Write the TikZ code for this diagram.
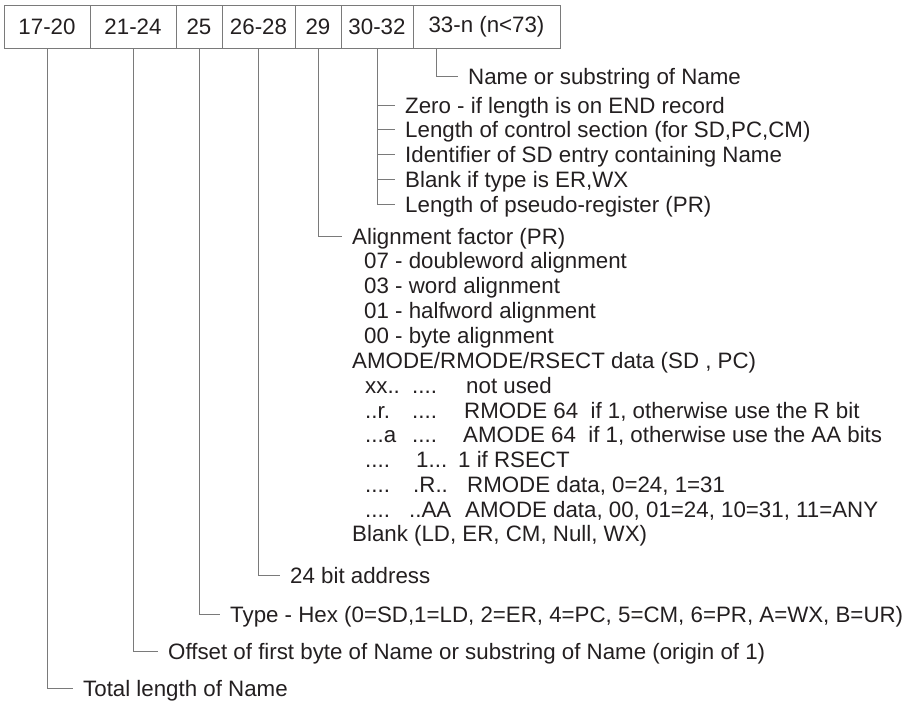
\documentclass[tikz,border=0pt]{standalone}
\usepackage{fontspec}
\setmainfont{Liberation Sans}
\usetikzlibrary{positioning}
\definecolor{ink}{HTML}{231F20}
\definecolor{rule}{HTML}{7A7A7A}
\newcommand{\fieldfont}{\fontsize{22.3}{25}\selectfont}
\tikzset{
  field node/.style={
    draw=rule,
    line width=1pt,
    text=ink,
    minimum height=43pt,
    inner sep=0pt,
    outer sep=0pt,
    font=\fieldfont,
  },
  note node/.style={
    anchor=west,
    inner sep=0pt,
    text=ink,
    text height=16pt,
    text depth=0pt,
    font=\fieldfont,
  },
  leader/.style={
    draw=rule,
    line width=1pt,
    shorten >=10pt,
  },
}

\begin{document}
\begin{tikzpicture}[x=1pt, y=-1pt]
  \useasboundingbox (0,0) rectangle (906,702);

  % --- Record fields ---
  \node[field node, minimum width=86pt, anchor=north west] (f1) at (4,5) {17-20};
  \node[field node, minimum width=86pt, right=0pt of f1] (f2) {21-24};
  \node[field node, minimum width=46pt, right=0pt of f2] (f3) {25};
  \node[field node, minimum width=73pt, right=0pt of f3] (f4) {26-28};
  \node[field node, minimum width=46pt, right=0pt of f4] (f5) {29};
  \node[field node, minimum width=72pt, right=0pt of f5] (f6) {30-32};
  \node[field node, minimum width=147pt, right=0pt of f6] (f7) {33-n (n<73)};

  % --- Name (33-n) ---
  \node[note node] (name) at (468,76) {Name or substring of Name};
  \draw[leader] ([xshift=-50pt]f7.south) |- (name.west);

  % --- Section length (30-32) ---
  \foreach \t [count=\i] in {Zero - if length is on END record,
      {Length of control section (for SD,PC,CM)},
      Identifier of SD entry containing Name,
      {Blank if type is ER,WX},
      Length of pseudo-register (PR)} {
    \node[note node] (sec\i) at (405,{80.2+24.8*\i}) {\t};
  }
  \draw[leader] (f6.south) |- (sec5.west);
  \foreach \i in {1,2,3,4} {
    \draw[leader] (f6.south |- sec\i.west) -- (sec\i.west);
  }

  % --- Flags (29) ---
  \node[note node] (align) at (352,236) {Alignment factor (PR)};
  \draw[leader] (f5.south) |- (align.west);
  \foreach \t [count=\i] in {07 - doubleword alignment, 03 - word alignment,
      01 - halfword alignment, 00 - byte alignment} {
    \node[note node] (fac\i) at (364,{236+24.8*\i}) {\t};
  }
  \node[note node] (mode) at (352,360) {AMODE/RMODE/RSECT data (SD , PC)};

  \node[note node] (b1a) at (365,385) {xx..};
  \node[note node] (b1b) at (412,385) {....};
  \node[note node] (b1c) at (466,385) {not used};
  \node[note node] (b2a) at (365,410) {..r.};
  \node[note node] (b2b) at (412,410) {....};
  \node[note node] (b2c) at (464,410) {RMODE 64\ \ if 1, otherwise use the R bit};
  \node[note node] (b3a) at (365,434) {...a};
  \node[note node] (b3b) at (412,434) {....};
  \node[note node] (b3c) at (463,434) {AMODE 64\ \ if 1, otherwise use the AA bits};
  \node[note node] (b4a) at (365,459) {....};
  \node[note node] (b4b) at (416,459) {1...};
  \node[note node] (b4c) at (458,459) {1 if RSECT};
  \node[note node] (b5a) at (365,484) {....};
  \node[note node] (b5b) at (413,484) {.R..};
  \node[note node] (b5c) at (467,484) {RMODE data, 0=24, 1=31};
  \node[note node] (b6a) at (365,509) {....};
  \node[note node] (b6b) at (409,509) {..AA};
  \node[note node] (b6c) at (465,509) {AMODE data, 00, 01=24, 10=31, 11=ANY};

  \node[note node] (blank) at (352,533) {Blank (LD, ER, CM, Null, WX)};

  % --- Address, type, offset, length ---
  \node[note node] (addr) at (290,575) {24 bit address};
  \draw[leader] (f4.south) |- (addr.west);

  \node[note node] (type) at (230,614) {Type - Hex (0=SD,1=LD, 2=ER, 4=PC, 5=CM, 6=PR, A=WX, B=UR)};
  \draw[leader] (f3.south) |- (type.west);

  \node[note node] (offset) at (168,651) {Offset of first byte of Name or substring of Name (origin of 1)};
  \draw[leader] (f2.south) |- (offset.west);

  \node[note node] (total) at (83,688) {Total length of Name};
  \draw[leader] (f1.south) |- (total.west);

\end{tikzpicture}
\end{document}
